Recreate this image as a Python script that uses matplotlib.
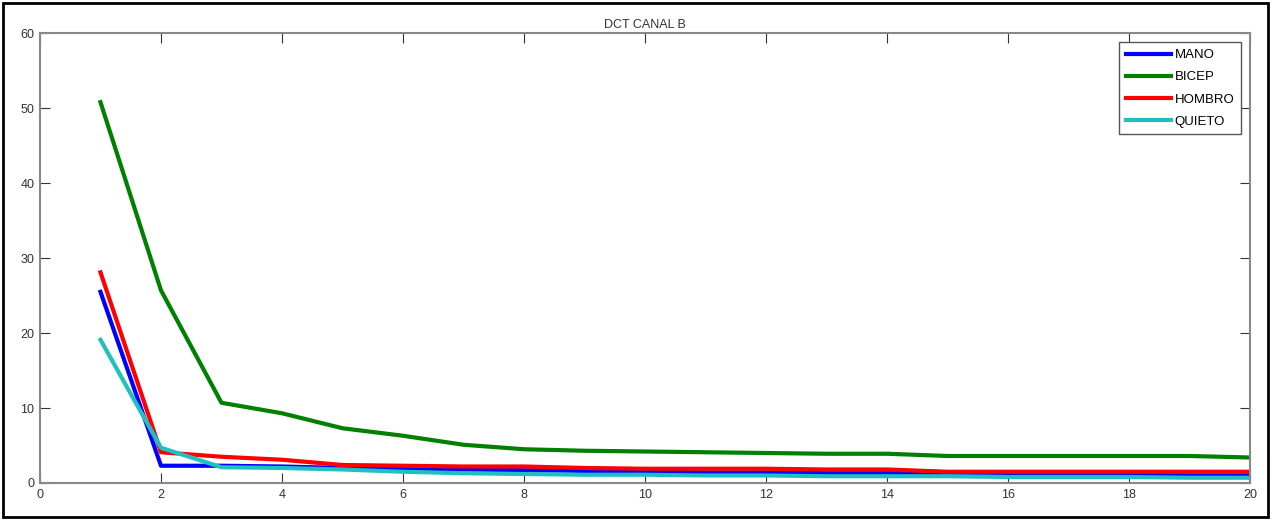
import numpy as np
import matplotlib.pyplot as plt
from matplotlib.patches import Rectangle

plt.rcParams['font.family'] = ['Liberation Sans', 'DejaVu Sans']

# Data
# ----------------------------
coef = np.arange(1, 21)
mano = [25.5, 2.3, 2.3, 2.2, 2.0, 1.9, 1.8, 1.7, 1.6, 1.5, 1.4, 1.4, 1.3, 1.3, 1.2, 1.2, 1.1, 1.1, 1.0, 1.0]
bicep = [50.8, 25.7, 10.7, 9.3, 7.3, 6.3, 5.1, 4.5, 4.3, 4.2, 4.1, 4.0, 3.9, 3.9, 3.6, 3.6, 3.6, 3.6, 3.6, 3.4]
hombro = [28.1, 4.1, 3.5, 3.1, 2.4, 2.3, 2.2, 2.2, 2.0, 1.9, 1.9, 1.9, 1.8, 1.8, 1.5, 1.5, 1.5, 1.5, 1.5, 1.5]
quieto = [19.1, 4.7, 2.1, 2.0, 1.8, 1.5, 1.3, 1.2, 1.1, 1.1, 1.0, 1.0, 0.9, 0.9, 0.9, 0.8, 0.8, 0.8, 0.7, 0.7]
labels = ['MANO', 'BICEP', 'HOMBRO', 'QUIETO']
colors = ['#0000ff', '#008000', '#ff0000', '#20c0c0']

# Create figure
# -------------
fig = plt.figure(figsize=(12.73, 5.19), dpi=100)
fig.patches.append(Rectangle((0.002, 0.004), 0.994, 0.99, transform=fig.transFigure,
                             fill=False, edgecolor='black', linewidth=2))
ax = fig.add_axes([0.0314, 0.0694, 0.9506, 0.8666])

for series, lab, col in zip([mano, bicep, hombro, quieto], labels, colors):
    ax.plot(coef, series, color=col, linewidth=3, label=lab)

# Figure labeling
# ---------------
ax.set_title('DCT CANAL B', fontsize=9, color='#333333', pad=4)
ax.set_xlim(0, 20)
ax.set_ylim(0, 60)
ax.set_xticks(np.arange(0, 21, 2))
ax.set_yticks(np.arange(0, 61, 10))
ax.tick_params(direction='in', top=True, right=True, labelsize=9, length=7,
               colors='#333333', pad=4)
for spine in ax.spines.values():
    spine.set_color('#888888')
    spine.set_linewidth(1.5)

leg = ax.legend(loc='upper right', fontsize=9.5, handlelength=3.4, handletextpad=0.3,
                labelspacing=0.75, fancybox=False, framealpha=1, edgecolor='#555555',
                borderaxespad=0.7, borderpad=0.5)
for line in leg.get_lines():
    line.set_linewidth(3)

# Save figure
# -----------
plt.savefig('out.png', dpi=100)
plt.close('all')
